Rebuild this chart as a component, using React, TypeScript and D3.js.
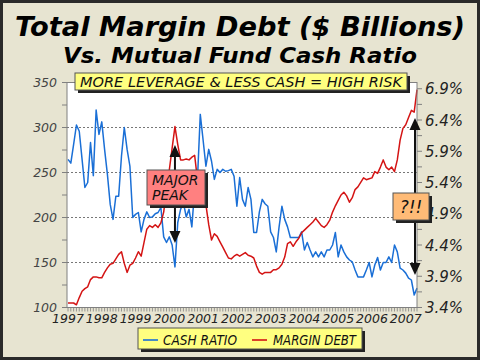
import React from 'react';
import * as d3 from 'd3';

// ---------- DATA (monthly, Jan 1997 .. May 2007) ----------
const startYear = 1997;
const yearLabels = ['1997', '1998', '1999', '2000', '2001', '2002', '2003', '2004', '2005', '2006', '2007'];
const leftTicks = [100, 150, 200, 250, 300, 350];
const rightTicks = [3.4, 3.9, 4.4, 4.9, 5.4, 5.9, 6.4, 6.9];
const gridValues = [150, 200, 250, 300];

// Margin debt, $ billions (left axis)
const marginDebt = [
  105, 105, 105, 103, 111, 118, 121, 123, 131, 134,
  134, 133, 133, 139, 144, 148, 149, 154, 159, 162,
  149, 139, 147, 149, 155, 162, 157, 172, 187, 191,
  189, 192, 189, 194, 206, 231, 253, 277, 301, 281,
  264, 264, 265, 264, 267, 269, 242, 231, 225, 214,
  192, 175, 182, 179, 173, 167, 161, 155, 154, 157,
  159, 157, 159, 161, 158, 157, 155, 146, 139, 137,
  139, 139, 139, 142, 142, 144, 148, 156, 171, 173,
  168, 173, 177, 183, 186, 189, 192, 195, 199, 195,
  191, 189, 192, 197, 206, 213, 219, 225, 228, 224,
  217, 222, 231, 234, 239, 244, 242, 243, 244, 251,
  249, 256, 264, 256, 253, 256, 251, 264, 286, 299,
  303, 311, 319, 317, 342,
];

// Mutual fund cash ratio, % (right axis)
const cashRatio = [
  5.77, 5.71, 6.01, 6.32, 6.22, 5.77, 5.32, 5.40, 6.04, 5.51,
  6.56, 6.17, 6.37, 5.93, 5.53, 5.05, 4.81, 5.18, 5.18, 5.82,
  6.28, 5.93, 5.66, 4.84, 4.89, 4.92, 4.61, 4.81, 4.93, 4.84,
  4.85, 4.90, 4.92, 5.00, 4.53, 4.44, 4.53, 4.40, 4.05, 4.76,
  4.97, 5.08, 4.85, 4.97, 4.69, 5.29, 5.45, 6.49, 6.08, 5.66,
  5.93, 5.74, 5.45, 5.61, 5.56, 5.61, 5.58, 5.59, 5.61, 5.50,
  5.02, 5.48, 5.13, 5.02, 5.32, 5.13, 4.60, 4.60, 4.93, 5.13,
  5.06, 5.02, 4.61, 4.52, 4.29, 4.69, 5.02, 4.81, 4.69, 4.52,
  4.52, 4.52, 4.52, 4.61, 4.32, 4.44, 4.32, 4.21, 4.29, 4.21,
  4.29, 4.21, 4.32, 4.32, 4.40, 4.60, 4.21, 4.40, 4.29, 4.21,
  4.16, 4.13, 4.00, 3.89, 3.89, 3.89, 4.00, 4.12, 3.89, 4.08,
  4.20, 4.00, 4.12, 4.12, 4.21, 4.12, 4.40, 4.29, 4.03, 4.00,
  3.95, 3.87, 3.84, 3.60, 3.71,
];

const FONT = '"DejaVu Sans", Verdana, sans-serif';

export default function App() {
  const W = 480;
  const H = 360;
  const left = 67;
  const right = 417;
  const top = 82.5;
  const bottom = 307.5;
  const n = marginDebt.length;

  const x = d3.scaleLinear().domain([0, n - 1]).range([68, right]);
  const yL = d3.scaleLinear().domain([100, 350]).range([bottom, top]);
  const yR = d3.scaleLinear().domain([3.4, 7.0]).range([bottom, top]);

  const lineDebt = d3.line<number>().x((_, i) => x(i)).y((d) => yL(d));
  const lineCash = d3.line<number>().x((_, i) => x(i)).y((d) => yR(d));

  const leftMinor = d3.range(100, 351, 25);
  const rightMinor = d3.range(0, 15).map((i) => 3.4 + i * 0.25).filter((v) => v <= 7.0);
  const months = d3.range(0, n);

  const peakIdx = 38; // Mar 2000
  const peakX = x(peakIdx);
  const endX = x(n - 1) - 2;

  const Arrow = ({ ax, y1, y2 }: { ax: number; y1: number; y2: number }) => {
    const hw = 5.5;
    const hl = 12;
    return (
      <g>
        <line x1={ax} x2={ax} y1={y1 + hl} y2={y2 - hl} stroke="#111" strokeWidth={2} />
        <path d={`M${ax},${y1} L${ax - hw},${y1 + hl} L${ax + hw},${y1 + hl} Z`} fill="#111" />
        <path d={`M${ax},${y2} L${ax - hw},${y2 - hl} L${ax + hw},${y2 - hl} Z`} fill="#111" />
      </g>
    );
  };

  const Box = ({ bx, by, bw, bh, fill }: { bx: number; by: number; bw: number; bh: number; fill: string }) => (
    <g>
      <rect x={bx + 3} y={by + 3} width={bw} height={bh} fill="#222" />
      <rect x={bx} y={by} width={bw} height={bh} fill={fill} stroke="#555" strokeWidth={1} />
    </g>
  );

  return (
    <svg
      width={W}
      height={H}
      viewBox={`0 0 ${W} ${H}`}
      style={{ position: 'fixed', left: 0, top: 0, display: 'block' }}
      fontFamily={FONT}
    >
      <rect x={0} y={0} width={W} height={H} fill="#E7E4D1" />
      <rect x={1.5} y={1.5} width={W - 3} height={H - 3} fill="none" stroke="#2a2a2a" strokeWidth={3} />

      <text x={240} y={36} textAnchor="middle" fontSize={26} fontWeight="bold" fontStyle="italic"
        textLength={450} lengthAdjust="spacingAndGlyphs" fill="#000">
        Total Margin Debt ($ Billions)
      </text>
      <text x={240} y={63} textAnchor="middle" fontSize={22} fontWeight="bold" fontStyle="italic"
        textLength={354} lengthAdjust="spacingAndGlyphs" fill="#000">
        Vs. Mutual Fund Cash Ratio
      </text>

      <rect x={left} y={top} width={right - left} height={bottom - top} fill="#fff" />

      {gridValues.map((v) => (
        <line key={v} x1={left} x2={right} y1={yL(v)} y2={yL(v)} stroke="#777" strokeWidth={1}
          strokeDasharray="2,2" />
      ))}

      <path d={lineCash(cashRatio) || ''} fill="none" stroke="#1a6fd6" strokeWidth={1.5} strokeLinejoin="round" />
      <path d={lineDebt(marginDebt) || ''} fill="none" stroke="#d41414" strokeWidth={1.5} strokeLinejoin="round" />

      <rect x={left} y={top} width={right - left} height={bottom - top} fill="none" stroke="#808080" strokeWidth={1} />

      {leftMinor.map((v) => (
        <line key={'lm' + v} x1={left - 5} x2={left} y1={yL(v)} y2={yL(v)} stroke="#808080" />
      ))}
      {leftTicks.map((v) => (
        <text key={'lt' + v} x={57} y={yL(v) + 4.5} textAnchor="end" fontSize={12.5} fontStyle="italic" fill="#444">
          {v}
        </text>
      ))}

      {rightMinor.map((v) => (
        <line key={'rm' + v} x1={right} x2={right + 5} y1={yR(v)} y2={yR(v)} stroke="#808080" />
      ))}
      {rightTicks.map((v) => (
        <text key={'rt' + v} x={425} y={yR(v) + 5.5} textAnchor="start" fontSize={15} fontStyle="italic" fill="#222">
          {v.toFixed(1) + '%'}
        </text>
      ))}

      {months.map((m) => (
        <line key={'xm' + m} x1={x(m)} x2={x(m)} y1={bottom} y2={bottom + 4} stroke="#808080" strokeWidth={0.8} />
      ))}
      {yearLabels.map((lab) => (
        <text key={lab} x={x((+lab - startYear) * 12)} y={323} textAnchor="middle" fontSize={12.5}
          fontStyle="italic" fill="#222">
          {lab}
        </text>
      ))}

      <Box bx={75} by={73} bw={332} bh={17} fill="#FFFF80" />
      <text x={80} y={86.5} fontSize={14} fontStyle="italic" fill="#111" textLength={322} lengthAdjust="spacingAndGlyphs">
        MORE LEVERAGE &amp; LESS CASH = HIGH RISK
      </text>

      <Arrow ax={peakX} y1={145} y2={243} />
      <Box bx={147} by={170} bw={58} bh={35} fill="#FF8080" />
      <text x={152} y={184.5} fontSize={14} fontStyle="italic" fill="#111">MAJOR</text>
      <text x={152} y={200} fontSize={14} fontStyle="italic" fill="#111">PEAK</text>

      <Arrow ax={endX} y1={118} y2={275} />
      <Box bx={393} by={193} bw={36} bh={27} fill="#FFBB77" />
      <text x={411} y={213} textAnchor="middle" fontSize={17} fontStyle="italic" fill="#111">?!!</text>

      <Box bx={138} by={328} bw={224} bh={21} fill="#FFFF80" />
      <line x1={143} x2={158} y1={340} y2={340} stroke="#1a6fd6" strokeWidth={1.6} />
      <text x={163} y={344.5} fontSize={13.5} fontStyle="italic" fill="#111" textLength={74} lengthAdjust="spacingAndGlyphs">
        CASH RATIO
      </text>
      <line x1={252} x2={267} y1={340} y2={340} stroke="#d41414" strokeWidth={1.6} />
      <text x={273} y={344.5} fontSize={13.5} fontStyle="italic" fill="#111" textLength={83} lengthAdjust="spacingAndGlyphs">
        MARGIN DEBT
      </text>
    </svg>
  );
}
